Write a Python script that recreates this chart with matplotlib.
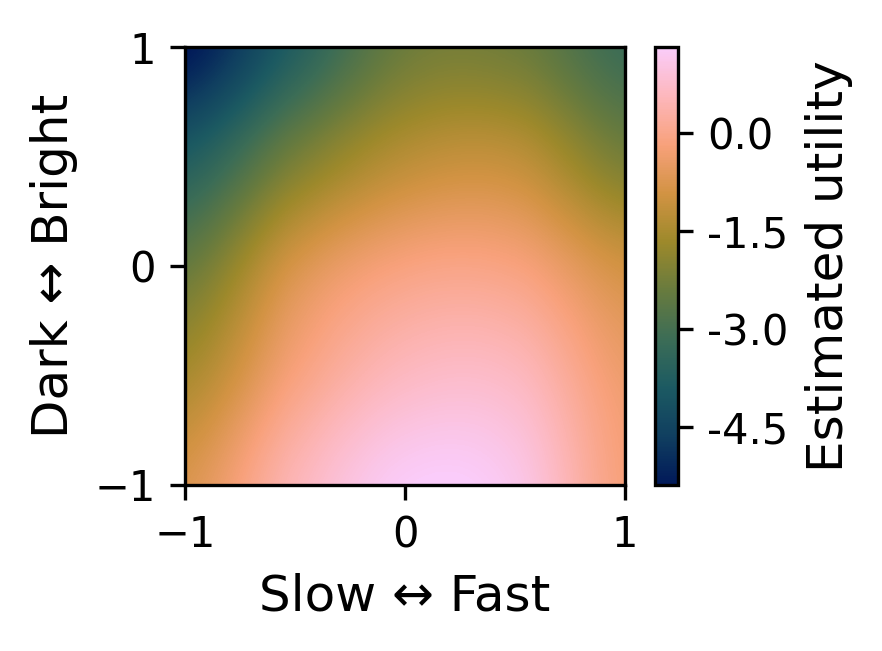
import numpy as np
import matplotlib
matplotlib.use("Agg")
import matplotlib.pyplot as plt
from matplotlib.colors import LinearSegmentedColormap, Normalize

# Grid coordinates (centres of the sampled utility values)
x_vals = [-1.0, -0.5, 0.0, 0.5, 1.0]
y_vals = [1.0, 0.5, 0.0, -0.5, -1.0]   # top row first

# Estimated utility (rows: y = 1 ... -1)
row_y_p1 = [-5.39, -3.70, -2.35, -2.30, -3.15]
row_y_p05 = [-3.80, -2.25, -1.30, -1.20, -2.20]
row_y_0 = [-2.45, -0.85, -0.15, -0.15, -0.93]
row_y_m05 = [-1.50, -0.15, 0.62, 0.62, -0.36]
row_y_m1 = [-0.76, 0.50, 1.28, 1.12, -0.17]

cbar_min, cbar_max = -5.39, 1.32
cbar_ticks = [-4.5, -3.0, -1.5, 0.0]
cbar_ticklabels = ["-4.5", "-3.0", "-1.5", "0.0"]
axis_ticks = [-1, 0, 1]

# batlow-like colormap
batlow_hex = ["#011959", "#103F60", "#1C5A62", "#3C6D56", "#687B3E",
              "#9D892B", "#D29343", "#F8A17B", "#FDB7BC", "#FACCFA"]
cmap = LinearSegmentedColormap.from_list("batlow", batlow_hex, N=256)

Z = np.array([row_y_p1, row_y_p05, row_y_0, row_y_m05, row_y_m1])

fig = plt.figure(figsize=(2.94, 2.17), dpi=300)
ax = fig.add_axes([0.2098, 0.255, 0.4988, 0.6728])
cax = fig.add_axes([0.7426, 0.255, 0.0261, 0.6728])

dx = (x_vals[1] - x_vals[0]) / 2
dy = (y_vals[0] - y_vals[1]) / 2
extent = [x_vals[0] - dx, x_vals[-1] + dx, y_vals[-1] - dy, y_vals[0] + dy]
im = ax.imshow(Z, cmap=cmap, norm=Normalize(cbar_min, cbar_max),
               extent=extent, origin="upper", interpolation="catrom",
               interpolation_stage="data", aspect="auto")
ax.set_xlim(-1, 1)
ax.set_ylim(-1, 1)
ax.set_xticks(axis_ticks)
ax.set_yticks(axis_ticks)
ax.tick_params(labelsize=10)
ax.set_xlabel("Slow ↔ Fast", fontsize=12)
ax.set_ylabel("Dark ↔ Bright", fontsize=12)

cb = fig.colorbar(im, cax=cax)
cb.set_ticks(cbar_ticks)
cb.set_ticklabels(cbar_ticklabels)
cb.ax.tick_params(labelsize=10)
cb.set_label("Estimated utility", fontsize=12)

fig.savefig("out.png", dpi=300)
